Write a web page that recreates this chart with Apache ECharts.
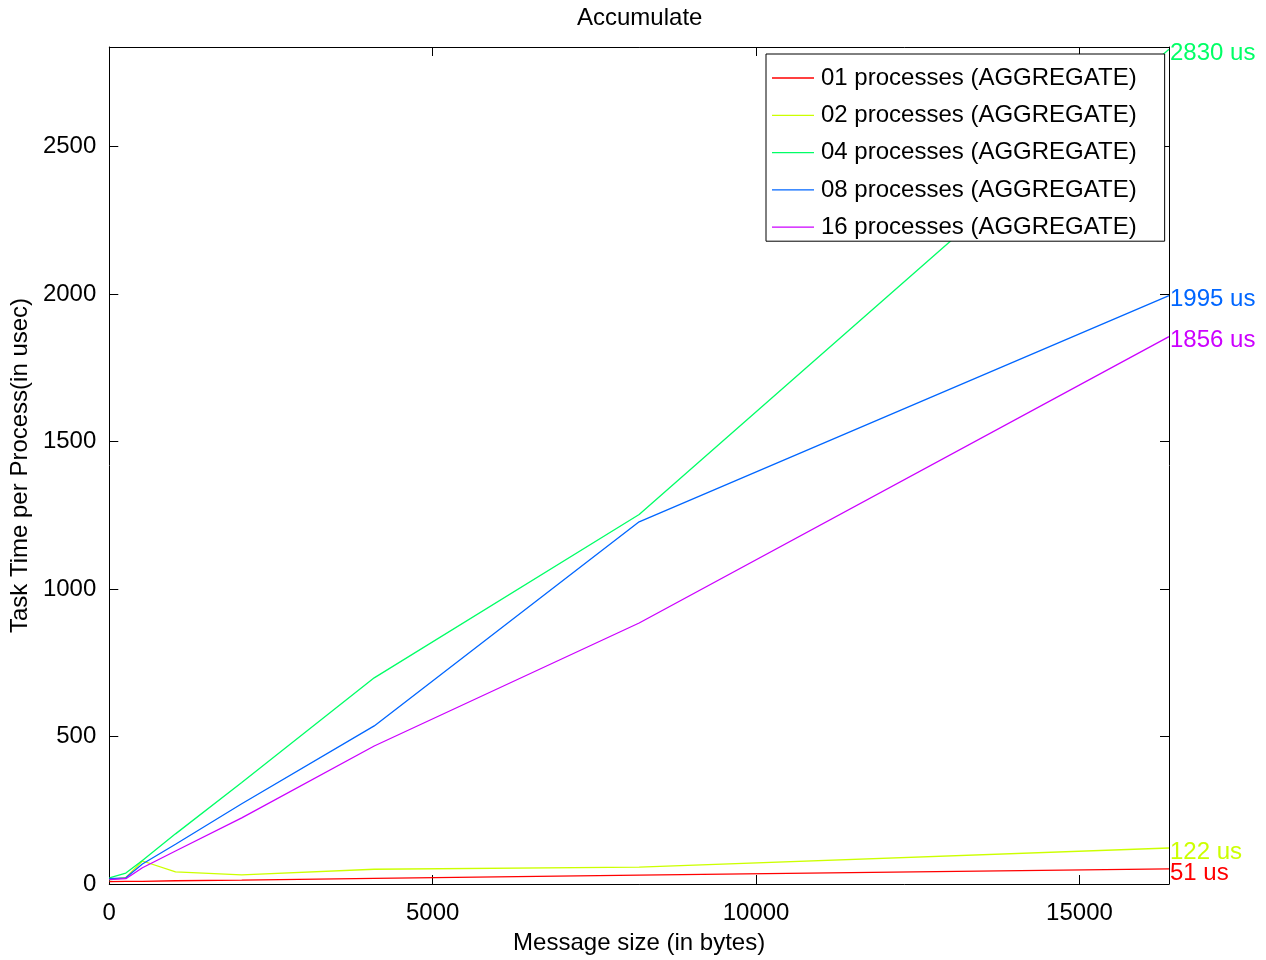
<!DOCTYPE html>
<html>
<head>
<meta charset="utf-8">
<script src="https://cdn.jsdelivr.net/npm/echarts@6/dist/echarts.min.js"></script>
<style>html,body{margin:0;padding:0;background:#fff;}#c{width:1266px;height:960px;}</style>
</head>
<body>
<div id="c"></div>
<script>
const messageSizes = [1, 256, 512, 1024, 2048, 4096, 8192, 16384];
const seriesNames = ['01 processes (AGGREGATE)', '02 processes (AGGREGATE)', '04 processes (AGGREGATE)', '08 processes (AGGREGATE)', '16 processes (AGGREGATE)'];
const p01 = [8, 9, 9, 11, 13, 19, 30, 51];
const p02 = [14, 22, 78, 41, 31, 50, 57, 122];
const p04 = [21, 37, 80, 170, 344, 699, 1253, 2830];
const p08 = [18, 21, 68, 135, 272, 536, 1228, 1995];
const p16 = [15, 18, 55, 112, 224, 468, 885, 1856];
const colors = ['#ff0000', '#ccff00', '#00ff66', '#0066ff', '#cc00ff'];
const allValues = [p01, p02, p04, p08, p16];

const FONT = "'Liberation Sans', Arial, sans-serif";
const FS = 24;

const chart = echarts.init(document.getElementById('c'), null, {renderer: 'canvas'});

const series = allValues.map((vals, i) => ({
  name: seriesNames[i],
  type: 'line',
  xAxisIndex: 0,
  yAxisIndex: 0,
  data: messageSizes.map((x, j) => [x, vals[j]]),
  symbol: 'none',
  showSymbol: false,
  color: colors[i],
  lineStyle: {width: 1.3, color: colors[i]},
  animation: false,
  clip: false,
  endLabel: {
    show: true,
    distance: 1,
    color: colors[i],
    fontFamily: FONT,
    fontSize: FS,
    offset: [0, 4],
    formatter: p => p.value[1] + ' us'
  }
}));

const axisLineStyle = {show: true, onZero: false, lineStyle: {color: '#000', width: 1}};
const tickStyle = {show: true, inside: true, length: 9, lineStyle: {color: '#000', width: 1}};
const plainNum = v => String(v);

chart.setOption({
  animation: false,
  backgroundColor: '#fff',
  title: {
    text: 'Accumulate',
    left: 572,
    top: 1,
    textStyle: {fontFamily: FONT, fontSize: FS, fontWeight: 'normal', color: '#000'}
  },
  legend: {
    orient: 'vertical',
    left: 766,
    top: 54,
    padding: [12, 28, 2, 6],
    itemWidth: 42,
    itemHeight: 24,
    itemGap: 13.3,
    icon: 'path://M0,0 L42,0 L42,1.3 L0,1.3 Z',
    symbolKeepAspect: true,
    borderColor: '#000',
    borderWidth: 1,
    backgroundColor: '#fff',
    textStyle: {fontFamily: FONT, fontSize: FS, color: '#000', lineHeight: 24, padding: [0, 0, 0, 2]},
    data: seriesNames
  },
  grid: {left: 109, right: 97, top: 47, bottom: 73, containLabel: false},
  xAxis: [{
    type: 'value',
    min: 0,
    max: 16384,
    interval: 5000,
    position: 'bottom',
    name: 'Message size (in bytes)',
    nameLocation: 'middle',
    nameGap: 47,
    nameTextStyle: {fontFamily: FONT, fontSize: FS, color: '#000'},
    axisLine: axisLineStyle,
    axisTick: tickStyle,
    splitLine: {show: false},
    axisLabel: {fontFamily: FONT, fontSize: FS, color: '#000', margin: 17, showMaxLabel: false, formatter: plainNum}
  }, {
    type: 'value',
    min: 0,
    max: 16384,
    interval: 5000,
    position: 'top',
    axisLine: axisLineStyle,
    axisTick: tickStyle,
    splitLine: {show: false},
    axisLabel: {show: false}
  }],
  yAxis: [{
    type: 'value',
    min: 0,
    max: 2838,
    interval: 500,
    position: 'left',
    name: 'Task Time per Process(in usec)',
    nameLocation: 'middle',
    nameGap: 74,
    nameTextStyle: {fontFamily: FONT, fontSize: FS, color: '#000'},
    axisLine: axisLineStyle,
    axisTick: tickStyle,
    splitLine: {show: false},
    axisLabel: {fontFamily: FONT, fontSize: FS, color: '#000', margin: 13, showMaxLabel: false, formatter: plainNum, padding: [5, 0, 0, 0]}
  }, {
    type: 'value',
    min: 0,
    max: 2838,
    interval: 500,
    position: 'right',
    axisLine: axisLineStyle,
    axisTick: tickStyle,
    splitLine: {show: false},
    axisLabel: {show: false}
  }],
  series: series
});
</script>
</body>
</html>
